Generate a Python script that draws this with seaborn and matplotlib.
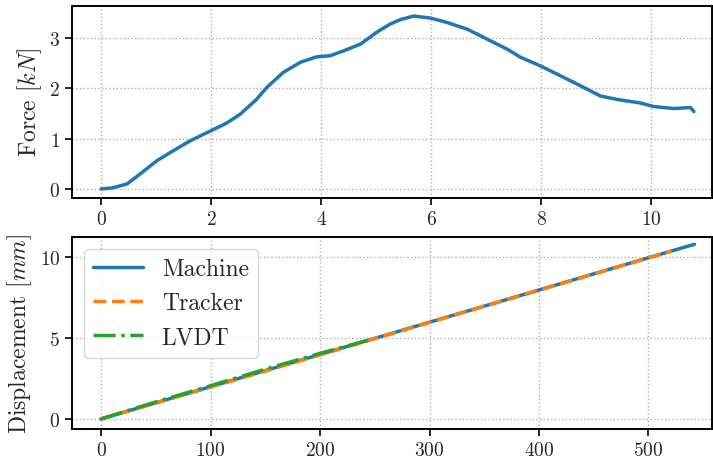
import matplotlib
matplotlib.use("Agg")
import matplotlib.pyplot as plt
import seaborn as sns
import pandas as pd

# === DATA ===
# top panel: force vs machine displacement
force_disp = [0.0, 0.2, 0.47, 0.71, 1.01, 1.31, 1.62, 1.98, 2.28, 2.53, 2.83,
              3.01, 3.31, 3.62, 3.92, 4.16, 4.41, 4.71, 5.01, 5.25, 5.44, 5.68,
              5.98, 6.16, 6.29, 6.65, 7.07, 7.38, 7.62, 7.98, 8.35, 8.77, 9.07,
              9.38, 9.8, 10.04, 10.41, 10.71, 10.77]
force_kn = [0.0, 0.02, 0.1, 0.3, 0.56, 0.76, 0.96, 1.15, 1.31, 1.49, 1.79,
            2.02, 2.32, 2.52, 2.63, 2.65, 2.75, 2.88, 3.12, 3.28, 3.37, 3.44,
            3.40, 3.35, 3.31, 3.18, 2.95, 2.78, 2.62, 2.45, 2.25, 2.02, 1.85,
            1.78, 1.71, 1.64, 1.60, 1.62, 1.54]

# bottom panel: displacement vs time
machine_t = [0, 100, 200, 300, 400, 500, 542]
machine_d = [0.0, 1.99, 3.98, 5.97, 7.96, 9.95, 10.78]
tracker_t = [0, 100, 200, 300, 400, 500, 521]
tracker_d = [0.0, 1.97, 3.95, 5.96, 7.95, 9.94, 10.36]
lvdt_t = [0, 50, 100, 150, 200, 244]
lvdt_d = [0.0, 1.05, 2.05, 3.07, 4.05, 4.86]

# === STYLE ===
sns.set_theme(style="ticks")
plt.rcParams["font.family"] = ["cmr10", "DejaVu Serif"]
plt.rcParams["mathtext.fontset"] = "cm"
plt.rcParams["axes.formatter.use_mathtext"] = True
colors = sns.color_palette("tab10")

fig = plt.figure(figsize=(7.13, 4.60), dpi=100)
W, H = 713, 460
ax1 = fig.add_axes([72 / W, 1 - 199 / H, 640 / W, 192 / H])
ax2 = fig.add_axes([72 / W, 1 - 430 / H, 640 / W, 192 / H])

top = pd.DataFrame({"disp": force_disp, "force": force_kn})
sns.lineplot(data=top, x="disp", y="force", ax=ax1, color=colors[0],
             linewidth=2.5, estimator=None, sort=False)

m = pd.DataFrame({"t": machine_t, "d": machine_d})
tr = pd.DataFrame({"t": tracker_t, "d": tracker_d})
lv = pd.DataFrame({"t": lvdt_t, "d": lvdt_d})
sns.lineplot(data=m, x="t", y="d", ax=ax2, color=colors[0], linewidth=2.5,
             label="Machine", estimator=None)
sns.lineplot(data=tr, x="t", y="d", ax=ax2, color=colors[1], linewidth=2.5,
             linestyle="--", label="Tracker", estimator=None)
sns.lineplot(data=lv, x="t", y="d", ax=ax2, color=colors[2], linewidth=2.5,
             linestyle="-.", label="LVDT", estimator=None)

ax1.set_xlim(-0.53, 11.1)
ax1.set_ylim(-0.18, 3.64)
ax1.set_xticks([0, 2, 4, 6, 8, 10])
ax1.set_yticks([0, 1, 2, 3])
ax2.set_xlim(-26.5, 558)
ax2.set_ylim(-0.62, 11.23)
ax2.set_xticks([0, 100, 200, 300, 400, 500])
ax2.set_yticks([0, 5, 10])

ax1.set_xlabel("")
ax2.set_xlabel("")
ax1.set_ylabel("Force $[kN]$", fontsize=17)
ax2.set_ylabel("Displacement $[mm]$", fontsize=17)

for ax in (ax1, ax2):
    ax.grid(True, linestyle=":", color="#b0b0b0", linewidth=1.0)
    ax.tick_params(labelsize=14, length=5, width=1.2, color="black")
    for s in ax.spines.values():
        s.set_visible(True)
        s.set_color("black")
        s.set_linewidth(1.4)

ax2.legend(loc="upper left", fontsize=17, handlelength=2.1, framealpha=0.8,
           edgecolor="#cccccc", fancybox=True)

fig.savefig("out.png", dpi=100)
